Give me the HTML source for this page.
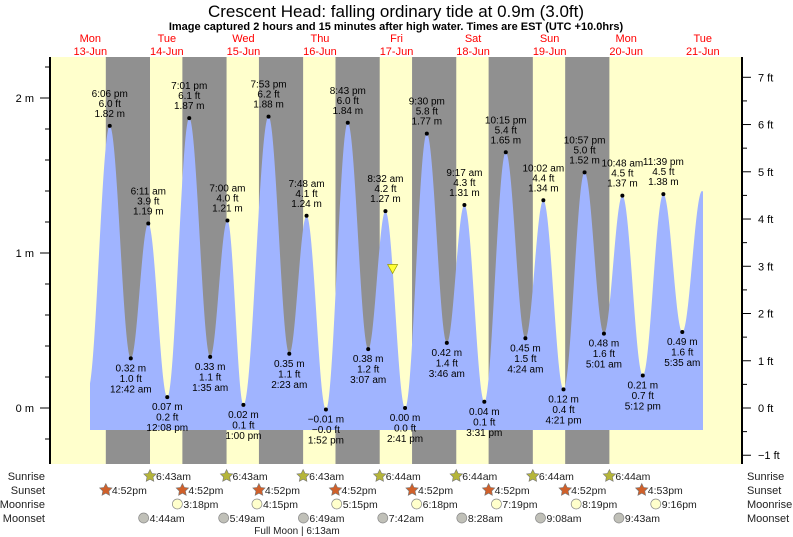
<!DOCTYPE html>
<html><head><meta charset="utf-8"><style>
body{margin:0;background:#fff;}
svg{display:block;font-family:"Liberation Sans",sans-serif;}
</style></head><body>
<svg id="c" width="793" height="537" xmlns="http://www.w3.org/2000/svg">
<text x="396" y="17" text-anchor="middle" font-size="17" fill="#000">Crescent Head: falling  ordinary tide at 0.9m (3.0ft)</text>
<text x="396" y="30" text-anchor="middle" font-size="11" font-weight="bold" fill="#000">Image captured 2 hours and 15 minutes after high water. Times are EST (UTC +10.0hrs)</text>
<g id="days"></g>
<rect x="50" y="57" width="692" height="407" fill="#ffffcc"/>
<g id="nights"></g>
<path id="tide" fill="#a0b4ff"/>
<g id="pts"></g>
<g id="axes"></g>
<g id="astro"></g>
</svg>
<script>
const NS="http://www.w3.org/2000/svg";
const dayNames=["Mon","Tue","Wed","Thu","Fri","Sat","Sun","Mon","Tue"];
const dayDates=["13-Jun","14-Jun","15-Jun","16-Jun","17-Jun","18-Jun","19-Jun","20-Jun","21-Jun"];
// extremes: hours from Mon 13 00:00, heights m
const tideHours=[11.25,18.1,24.7,30.18,36.13,43.02,49.58,55,60,67.88,74.38,79.8,85.87,92.72,99.12,104.53,110.68,117.5,123.77,129.28,135.52,142.25,148.4,154.03,160.35,166.95,173.02,178.8,185.2,191.65,197.58,203.8];
const tideHeights=[0.12,1.82,0.32,1.19,0.07,1.87,0.33,1.21,0.02,1.88,0.35,1.24,-0.01,1.84,0.38,1.27,0.00,1.77,0.42,1.31,0.04,1.65,0.45,1.34,0.12,1.52,0.48,1.37,0.21,1.38,0.49,1.40];
const tideFt=["","6.0","1.0","3.9","0.2","6.1","1.1","4.0","0.1","6.2","1.1","4.1","-0.0","6.0","1.2","4.2","0.0","5.8","1.4","4.3","0.1","5.4","1.5","4.4","0.4","5.0","1.6","4.5","0.7","4.5","1.6",""];
const tideTimes=["","6:06 pm","12:42 am","6:11 am","12:08 pm","7:01 pm","1:35 am","7:00 am","1:00 pm","7:53 pm","2:23 am","7:48 am","1:52 pm","8:43 pm","3:07 am","8:32 am","2:41 pm","9:30 pm","3:46 am","9:17 am","3:31 pm","10:15 pm","4:24 am","10:02 am","4:21 pm","10:57 pm","5:01 am","10:48 am","5:12 pm","11:39 pm","5:35 am",""];
const sunsetH=[16.87,40.87,64.87,88.87,112.87,136.87,160.87];
const sunriseH=[30.72,54.72,78.72,102.73,126.73,150.73,174.73];
const sunriseT=["6:43am","6:43am","6:43am","6:44am","6:44am","6:44am","6:44am"];
const sunsetAll=[16.87,40.87,64.87,88.87,112.87,136.87,160.87,184.88];
const sunsetT=["4:52pm","4:52pm","4:52pm","4:52pm","4:52pm","4:52pm","4:52pm","4:53pm"];
const moonriseH=[39.3,64.25,89.25,114.3,139.32,164.32,189.27];
const moonriseT=["3:18pm","4:15pm","5:15pm","6:18pm","7:19pm","8:19pm","9:16pm"];
const moonsetH=[28.73,53.82,78.82,103.7,128.47,153.13,177.72];
const moonsetT=["4:44am","5:49am","6:49am","7:42am","8:28am","9:08am","9:43am"];
const mTicks=[0,1,2];
const ftTicks=[-1,0,1,2,3,4,5,6,7];
const nowH=106.78, nowM=0.9;
const X=h=>52+h*3.19;
const Y=m=>408-m*155;
const svg=document.getElementById('c');
function el(tag,attrs,parent,txt){const e=document.createElementNS(NS,tag);for(const k in attrs)e.setAttribute(k,attrs[k]);if(txt!==undefined)e.textContent=txt;parent.appendChild(e);return e;}
// day labels
const gd=document.getElementById('days');
dayNames.forEach((d,i)=>{const x=X(i*24+12);
const t=el('text',{x:x,y:42,'text-anchor':'middle','font-size':11,fill:'#ff0000'},gd,d);

const t2=el('text',{x:x,y:55,'text-anchor':'middle','font-size':11,fill:'#ff0000'},gd,dayDates[i]);
});
// nights
const gn=document.getElementById('nights');
sunsetH.forEach((s,i)=>{const r=el('rect',{x:X(s),y:57,width:X(sunriseH[i])-X(s),height:407,fill:'#909090'},gn);
});
// tide curve
const x0=90,x1=703;let d='M'+x0+',430';
for(let px=x0;px<=x1;px+=0.5){const h=(px-52)/3.19;let k=0;while(k<tideHours.length-2&&tideHours[k+1]<h)k++;
const h0=tideHours[k],h1=tideHours[k+1];let f=(h-h0)/(h1-h0);f=Math.max(-0.5,Math.min(1.5,f));
const m=tideHeights[k]+(tideHeights[k+1]-tideHeights[k])*(1-Math.cos(Math.PI*f))/2;d+=' L'+px+','+Y(m).toFixed(1);}
d+=' L'+x1+',430 Z';document.getElementById('tide').setAttribute('d',d);
// points & labels
const gp=document.getElementById('pts');
tideHours.forEach((h,i)=>{if(!tideTimes[i])return;const x=X(h),y=Y(tideHeights[i]);
const c=el('circle',{cx:x,cy:y,r:2,fill:'#000'},gp);
const high=tideHeights[i]>0.9;const ms=tideHeights[i].toFixed(2).replace('-','−')+' m';
const lines=high?[tideTimes[i],tideFt[i]+' ft',ms]:[ms,tideFt[i].replace('-','−')+' ft',tideTimes[i]];
lines.forEach((s,j)=>{const ty=high?y-29+j*10:y+13+j*10.5;
const t=el('text',{x:x,y:ty,'text-anchor':'middle','font-size':10,fill:'#000'},gp,s);
});});
const tri=el('polygon',{points:`${X(nowH)-5},${Y(nowM)-4} ${X(nowH)+5},${Y(nowM)-4} ${X(nowH)},${Y(nowM)+5}`,fill:'#ffff33',stroke:'#999900','stroke-width':0.7},gp);

// axes
const ga=document.getElementById('axes');
el('line',{x1:50,y1:57,x2:50,y2:464,stroke:'#000','stroke-width':2},ga);
el('line',{x1:742,y1:57,x2:742,y2:464,stroke:'#000','stroke-width':2},ga);
for(let m=-0.2;m<=2.21;m+=0.2){const y=Y(m);const major=Math.abs(m-Math.round(m))<0.01;el('line',{x1:major?40:45,y1:y,x2:50,y2:y,stroke:'#000'},ga);}
mTicks.forEach(m=>{const t=el('text',{x:34,y:Y(m)+4,'text-anchor':'end','font-size':11},ga,m+' m');});
for(let f=-1;f<=7.01;f+=0.5){const y=Y(f*0.3048);const major=Math.abs(f-Math.round(f))<0.01;el('line',{x1:742,y1:y,x2:major?751:747,y2:y,stroke:'#000'},ga);}
ftTicks.forEach(f=>{const t=el('text',{x:758,y:Y(f*0.3048)+4,'font-size':11},ga,(f<0?'−'+(-f):f)+' ft');});
// astro rows
const gs=document.getElementById('astro');
const rows=[["Sunrise",476],["Sunset",490],["Moonrise",504],["Moonset",518]];
rows.forEach(r=>{const a=el('text',{x:45,y:r[1]+4,'text-anchor':'end','font-size':11,fill:'#222'},gs,r[0]);
const b=el('text',{x:747,y:r[1]+4,'font-size':11,fill:'#222'},gs,r[0]);});
function star(x,y,fill){let p=[];for(let i=0;i<10;i++){const a=-Math.PI/2+i*Math.PI/5,r=i%2?3.2:6.5;p.push((x+r*Math.cos(a)).toFixed(1)+','+(y+r*Math.sin(a)).toFixed(1));}
return el('polygon',{points:p.join(' '),fill:fill,stroke:'#777','stroke-width':0.6},gs);}
function item(h,y,t,kind){const x=X(h);let s;
if(kind=='rise')s=star(x,y,'#b5b53a');else if(kind=='set')s=star(x,y,'#d0602a');
else s=el('circle',{cx:x,cy:y,r:5,fill:kind=='mr'?'#ffffcc':'#c0c0b8',stroke:'#888','stroke-width':0.7},gs);

const tx=el('text',{x:x+6,y:y+4,'font-size':10.5,fill:'#222'},gs,t);}
sunriseH.forEach((h,i)=>item(h,476,sunriseT[i],'rise'));
sunsetAll.forEach((h,i)=>item(h,490,sunsetT[i],'set'));
moonriseH.forEach((h,i)=>item(h,504,moonriseT[i],'mr'));
moonsetH.forEach((h,i)=>item(h,518,moonsetT[i],'ms'));
const fm=el('text',{x:297,y:534,'text-anchor':'middle','font-size':10,fill:'#222'},gs,'Full Moon | 6:13am');

</script>
</body></html>
